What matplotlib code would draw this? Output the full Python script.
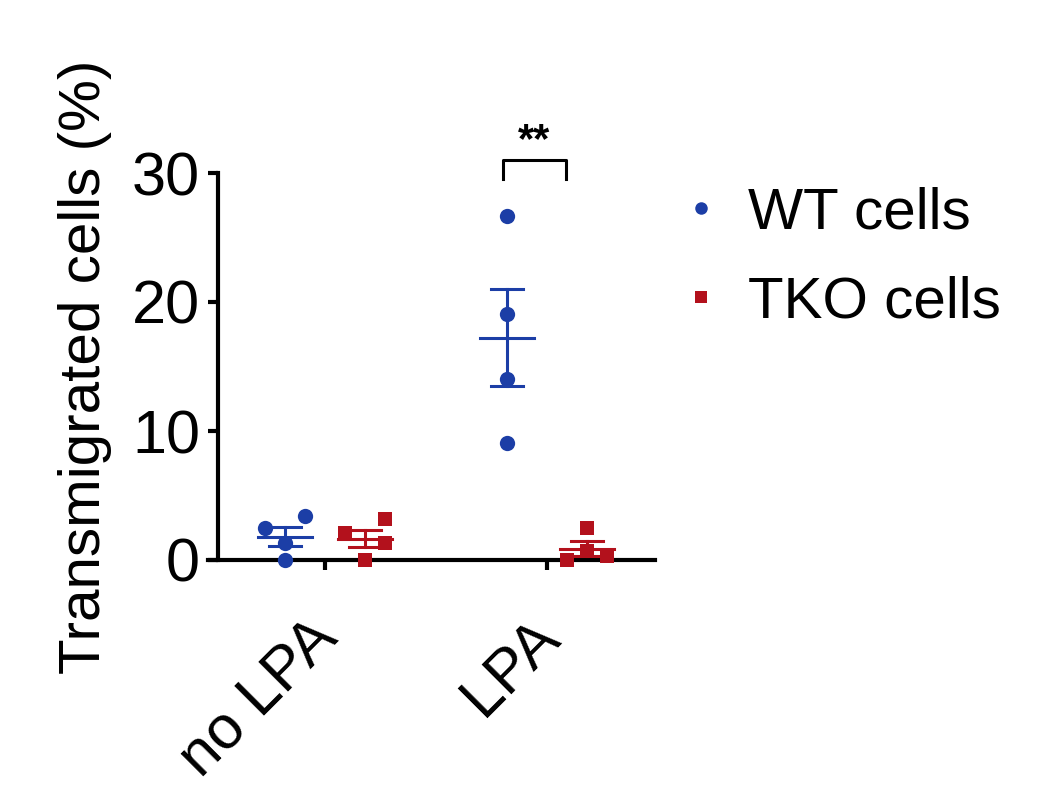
import numpy as np
import matplotlib.pyplot as plt
from matplotlib.lines import Line2D
from matplotlib.transforms import ScaledTranslation

plt.rcParams['font.family'] = ['Liberation Sans', 'DejaVu Sans']

# datos
conditions = ['no LPA', 'LPA']
wt_values = [[2.5, 3.4, 0.0, 1.3], [26.7, 19.1, 14.0, 9.1]]
tko_values = [[2.1, 3.2, 1.3, 0.0], [2.5, 0.0, 0.3, 0.7]]
wt_jitter = [[-0.09, 0.09, 0.0, 0.0], [0.0, 0.0, 0.0, 0.0]]
tko_jitter = [[-0.09, 0.09, 0.09, 0.0], [0.0, -0.09, 0.09, 0.0]]
groups = ['WT cells', 'TKO cells']

blue = '#1c3ea6'
red = '#b3111c'
offset = 0.18

fig = plt.figure(figsize=(10.5, 7.86), dpi=100)
ax = fig.add_axes([208 / 1050, 1 - 560 / 786, 447 / 1050, 387 / 786])

for i, cond in enumerate(conditions):
    for vals, jit, col, mk, ms, dx in [
        (wt_values[i], wt_jitter[i], blue, 'o', 11, -offset),
        (tko_values[i], tko_jitter[i], red, 's', 10, offset),
    ]:
        v = np.array(vals)
        xc = i + dx
        ax.plot(xc + np.array(jit), v, linestyle='none', marker=mk,
                color=col, markersize=ms, markeredgewidth=0, zorder=3,
                clip_on=False)
        m = v.mean()
        sem = v.std(ddof=1) / np.sqrt(len(v))
        ax.plot([xc - 0.12, xc + 0.12], [m, m], color=col, lw=2.2, zorder=4,
                clip_on=False)
        ax.plot([xc, xc], [m - sem, m + sem], color=col, lw=2.2, zorder=4)
        for y in (m - sem, m + sem):
            ax.plot([xc - 0.072, xc + 0.072], [y, y], color=col, lw=2.2,
                    zorder=4)

# corchete de significancia
ax.plot([0.8, 0.8, 1.086, 1.086], [29.5, 31.0, 31.0, 29.5], color='black',
        lw=2.2, clip_on=False)
ax.text(0.943, 30.9, '**', ha='center', va='bottom', fontsize=30,
        fontweight='bold')

ax.set_xlim(-0.527, 1.486)
ax.set_ylim(0, 30)
ax.set_yticks([0, 10, 20, 30])
ax.set_xticks([0, 1])
ax.set_xticklabels(conditions, rotation=45, ha='right',
                   rotation_mode='anchor')
ax.spines['top'].set_visible(False)
ax.spines['right'].set_visible(False)
ax.spines['left'].set_position(('axes', 10 / 447))
ax.spines['left'].set_linewidth(3)
ax.spines['bottom'].set_linewidth(3)
ax.tick_params(axis='both', width=3, length=7, labelsize=44, pad=6)
ax.tick_params(axis='x', pad=28)
shift = ScaledTranslation(-0.17, 0, fig.dpi_scale_trans)
for lbl in ax.get_xticklabels():
    lbl.set_transform(lbl.get_transform() + shift)
ax.set_ylabel('Transmigrated cells (%)', fontsize=42, labelpad=14)

handles = [
    Line2D([], [], linestyle='none', marker='o', color=blue, markersize=9,
           markeredgewidth=0),
    Line2D([], [], linestyle='none', marker='s', color=red, markersize=8,
           markeredgewidth=0),
]
fig.legend(handles, groups, loc='upper left', bbox_to_anchor=(0.59, 0.83),
           frameon=False, fontsize=42, handletextpad=0.3, labelspacing=0.6,
           handlelength=1.0)

fig.savefig('out.png', dpi=100)
